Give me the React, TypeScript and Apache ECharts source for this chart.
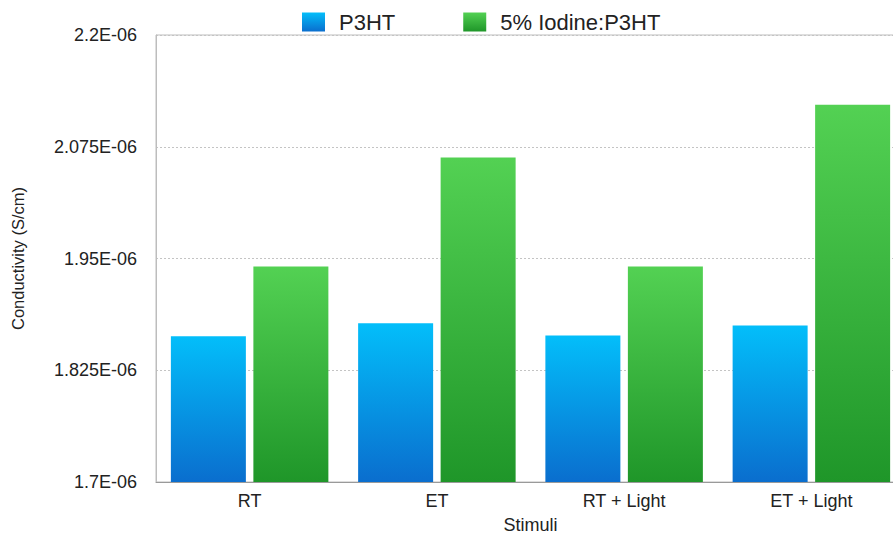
import React, { useEffect, useRef } from "react";
import * as echarts from "echarts";

const categories = ["RT", "ET", "RT + Light", "ET + Light"];
const seriesNames = ["P3HT", "5% Iodine:P3HT"];
const p3ht = [1.863e-6, 1.8775e-6, 1.864e-6, 1.875e-6];
const iodineP3ht = [1.941e-6, 2.063e-6, 1.941e-6, 2.122e-6];
const tickLabels = ["1.7E-06", "1.825E-06", "1.95E-06", "2.075E-06", "2.2E-06"];
const yMin = 1.7e-6;
const yMax = 2.2e-6;
const yStep = 0.125e-6;

const FONT = "'Liberation Sans', Arial, Helvetica, sans-serif";

export default function App() {
  const ref = useRef<HTMLDivElement>(null);
  useEffect(() => {
    if (!ref.current) return;
    const chart = echarts.init(ref.current, null, { renderer: "svg" });
    const blue = new echarts.graphic.LinearGradient(0, 0, 0, 1, [
      { offset: 0, color: "#03BEFA" },
      { offset: 1, color: "#0A6ECE" },
    ]);
    const green = new echarts.graphic.LinearGradient(0, 0, 0, 1, [
      { offset: 0, color: "#53D153" },
      { offset: 1, color: "#1F9629" },
    ]);
    chart.setOption({
      animation: false,
      backgroundColor: "#ffffff",
      textStyle: { fontFamily: FONT },
      legend: {
        top: 6,
        left: 297,
        itemWidth: 23,
        itemHeight: 19,
        itemGap: 68,
        icon: "rect",
        textStyle: { fontSize: 22, color: "#222", fontFamily: FONT, padding: [0, 0, 0, 9] },
        data: seriesNames,
      },
      grid: { left: 156, top: 35, right: 1, bottom: 59, show: true, borderColor: "#bdbdbd", borderWidth: 1 },
      xAxis: {
        type: "category",
        data: categories,
        name: "Stimuli",
        nameLocation: "middle",
        nameGap: 34,
        nameTextStyle: { fontSize: 18, color: "#222", fontFamily: FONT },
        axisLine: { lineStyle: { color: "#9a9a9a", width: 1 } },
        axisTick: { show: false },
        axisLabel: { fontSize: 18, color: "#222", margin: 10, fontFamily: FONT },
      },
      yAxis: {
        type: "value",
        min: yMin,
        max: yMax,
        interval: yStep,
        name: "Conductivity (S/cm)",
        nameLocation: "middle",
        nameGap: 130,
        nameTextStyle: { fontSize: 16.5, color: "#222", fontFamily: FONT },
        axisLine: { show: true, lineStyle: { color: "#bdbdbd", width: 1 } },
        axisTick: { show: false },
        axisLabel: {
          fontSize: 18,
          color: "#222",
          margin: 19,
          fontFamily: FONT,
          formatter: (v: number) => tickLabels[Math.round((v - yMin) / yStep)] ?? "",
        },
        splitLine: { show: true, lineStyle: { color: "#c4c4c4", type: [2, 2], width: 1 } },
      },
      series: [
        {
          name: seriesNames[0],
          type: "bar",
          data: p3ht,
          barWidth: 75,
          barGap: "10%",
          itemStyle: { color: blue },
        },
        {
          name: seriesNames[1],
          type: "bar",
          data: iodineP3ht,
          barWidth: 75,
          barGap: "10%",
          itemStyle: { color: green },
        },
      ],
    });
    return () => chart.dispose();
  }, []);
  return (
    <div style={{ position: "fixed", left: 0, top: 0, width: 893, height: 541, overflow: "hidden", background: "#fff" }}>
      <div ref={ref} style={{ width: 906, height: 541, position: "absolute", left: 0, top: 0 }} />
    </div>
  );
}
